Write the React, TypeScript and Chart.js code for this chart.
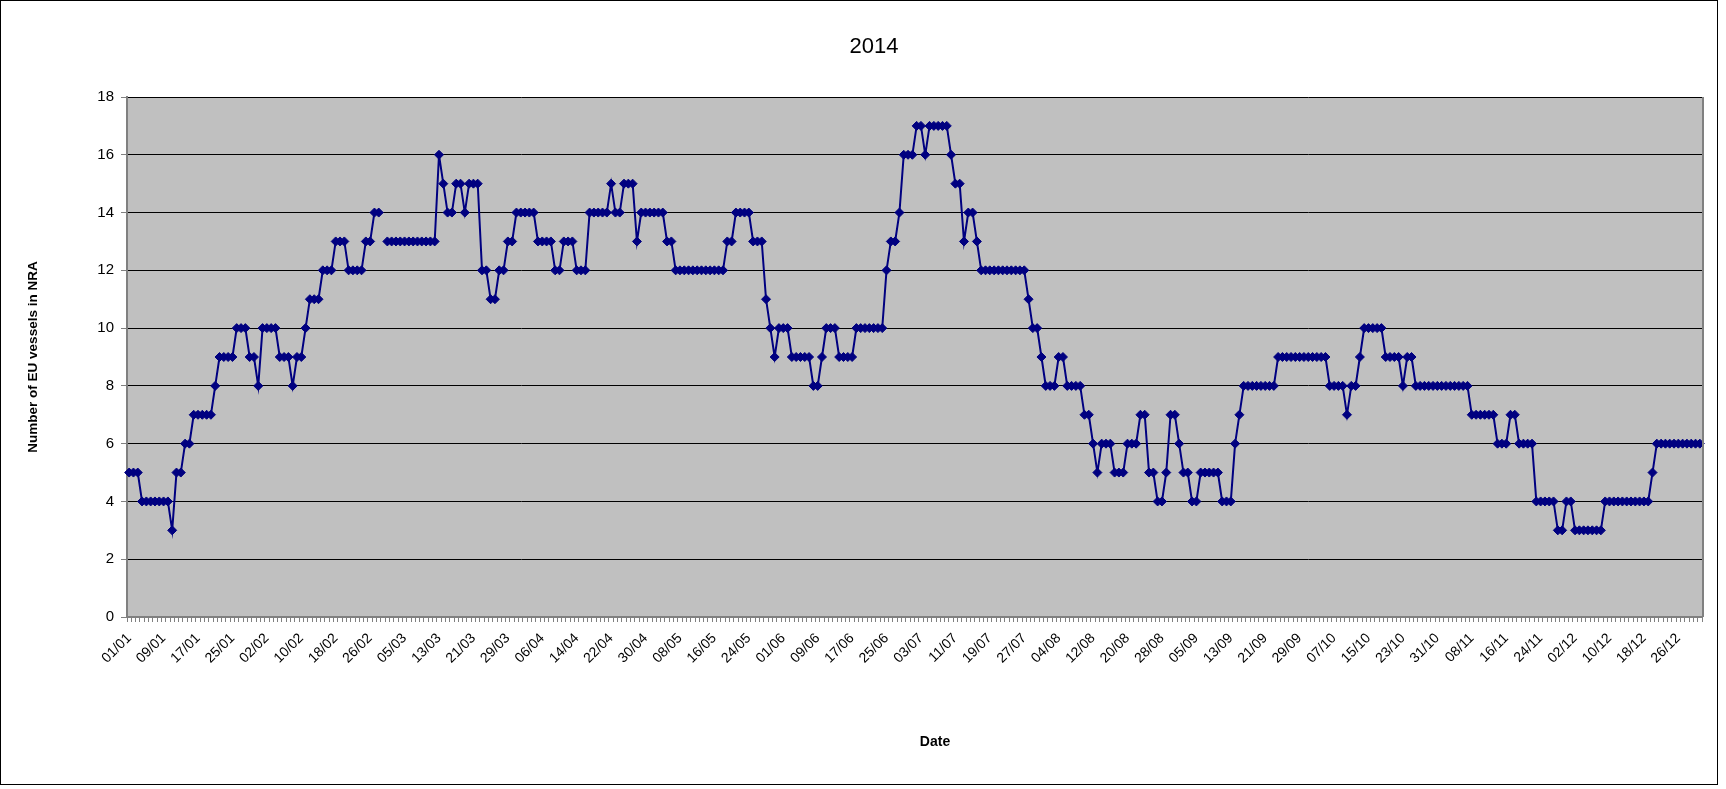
import React, { useEffect, useRef } from 'react';
import { Chart, registerables } from 'chart.js';

Chart.register(...registerables);

// ---- categories (daily dates of 2014, as the sheet lists them) ----
const monthNumbers = ['01', '02', '03', '04', '05', '06', '07', '08', '09', '10', '11', '12'];
const monthLengths = [31, 28, 31, 30, 31, 30, 31, 31, 30, 31, 30, 31];
// the sheet holds one extra, empty row after 28/02
const extraRowAfter = '28/02';

function buildCategories(): string[] {
  const out: string[] = [];
  monthNumbers.forEach((m, mi) => {
    for (let d = 1; d <= monthLengths[mi]; d++) {
      const lab = String(d).padStart(2, '0') + '/' + m;
      out.push(lab);
      if (lab === extraRowAfter) out.push('');
    }
  });
  return out;
}
const categories = buildCategories();

// ---- series values: number of EU vessels in NRA, per day ----
const jan = [5, 5, 5, 4, 4, 4, 4, 4, 4, 4, 3, 5, 5, 6, 6, 7, 7, 7, 7, 7, 8, 9, 9, 9, 9, 10, 10, 10, 9, 9, 8];
const feb = [10, 10, 10, 10, 9, 9, 9, 8, 9, 9, 10, 11, 11, 11, 12, 12, 12, 13, 13, 13, 12, 12, 12, 12, 13, 13, 14, 14];
const extraRow = [null];
const mar = [13, 13, 13, 13, 13, 13, 13, 13, 13, 13, 13, 13, 16, 15, 14, 14, 15, 15, 14, 15, 15, 15, 12, 12, 11, 11, 12, 12, 13, 13, 14];
const apr = [14, 14, 14, 14, 13, 13, 13, 13, 12, 12, 13, 13, 13, 12, 12, 12, 14, 14, 14, 14, 14, 15, 14, 14, 15, 15, 15, 13, 14, 14];
const may = [14, 14, 14, 14, 13, 13, 12, 12, 12, 12, 12, 12, 12, 12, 12, 12, 12, 12, 13, 13, 14, 14, 14, 14, 13, 13, 13, 11, 10, 9, 10];
const jun = [10, 10, 9, 9, 9, 9, 9, 8, 8, 9, 10, 10, 10, 9, 9, 9, 9, 10, 10, 10, 10, 10, 10, 10, 12, 13, 13, 14, 16, 16];
const jul = [16, 17, 17, 16, 17, 17, 17, 17, 17, 16, 15, 15, 13, 14, 14, 13, 12, 12, 12, 12, 12, 12, 12, 12, 12, 12, 12, 11, 10, 10, 9];
const aug = [8, 8, 8, 9, 9, 8, 8, 8, 8, 7, 7, 6, 5, 6, 6, 6, 5, 5, 5, 6, 6, 6, 7, 7, 5, 5, 4, 4, 5, 7, 7];
const sep = [6, 5, 5, 4, 4, 5, 5, 5, 5, 5, 4, 4, 4, 6, 7, 8, 8, 8, 8, 8, 8, 8, 8, 9, 9, 9, 9, 9, 9, 9];
const oct = [9, 9, 9, 9, 9, 8, 8, 8, 8, 7, 8, 8, 9, 10, 10, 10, 10, 10, 9, 9, 9, 9, 8, 9, 9, 8, 8, 8, 8, 8, 8];
const nov = [8, 8, 8, 8, 8, 8, 8, 7, 7, 7, 7, 7, 7, 6, 6, 6, 7, 7, 6, 6, 6, 6, 4, 4, 4, 4, 4, 3, 3, 4];
const dec = [4, 3, 3, 3, 3, 3, 3, 3, 4, 4, 4, 4, 4, 4, 4, 4, 4, 4, 4, 5, 6, 6, 6, 6, 6, 6, 6, 6, 6, 6, 6];

const vessels: (number | null)[] = [
  ...jan, ...feb, ...extraRow, ...mar, ...apr, ...may, ...jun,
  ...jul, ...aug, ...sep, ...oct, ...nov, ...dec,
];

const yTicks = [0, 2, 4, 6, 8, 10, 12, 14, 16, 18];
const labelEvery = 8;

const chartTitle = '2014';
const xTitle = 'Date';
const yTitle = 'Number of EU vessels in NRA';

const FONT = "'Liberation Sans', Arial, sans-serif";

const frame = {
  id: 'frame',
  beforeDraw(chart: any) {
    const { ctx, chartArea: a } = chart;
    ctx.save();
    ctx.fillStyle = '#C0C0C0';
    ctx.fillRect(a.left, a.top, a.right - a.left, a.bottom - a.top);
    ctx.restore();
  },
  afterDatasetsDraw(chart: any) {
    const { ctx, chartArea: a } = chart;
    ctx.save();
    ctx.strokeStyle = '#808080';
    ctx.lineWidth = 2;
    ctx.beginPath();
    ctx.moveTo(a.right + 1, a.top);
    ctx.lineTo(a.right + 1, a.bottom);
    ctx.stroke();
    ctx.restore();
  },
  afterDraw(chart: any) {
    const { ctx } = chart;
    ctx.save();
    ctx.strokeStyle = '#000';
    ctx.lineWidth = 1;
    ctx.strokeRect(0.5, 0.5, 1717, 784);
    ctx.fillStyle = '#000';
    ctx.textAlign = 'center';
    ctx.textBaseline = 'middle';
    ctx.font = `normal 22px ${FONT}`;
    ctx.fillText(chartTitle, 874, 47);
    ctx.font = `bold 14px ${FONT}`;
    ctx.fillText(xTitle, 935, 742);
    ctx.restore();
  },
};

export default function App() {
  const ref = useRef<HTMLCanvasElement>(null);

  useEffect(() => {
    if (!ref.current) return;
    const chart = new Chart(ref.current, {
      type: 'line',
      data: {
        labels: categories,
        datasets: [
          {
            label: 'EU vessels in NRA',
            data: vessels,
            borderColor: '#000080',
            backgroundColor: '#000080',
            borderWidth: 2,
            pointStyle: 'rectRot',
            pointRadius: 4.5,
            pointBorderWidth: 1,
            pointBackgroundColor: '#000080',
            pointBorderColor: '#000080',
            spanGaps: false,
            tension: 0,
          },
        ],
      },
      options: {
        responsive: false,
        animation: false,
        events: [],
        layout: { padding: { left: 0, right: 24, top: 97, bottom: 0 } },
        plugins: {
          legend: { display: false },
          tooltip: { enabled: false },
          title: { display: false },
        },
        scales: {
          x: {
            type: 'category',
            offset: true,
            afterFit: (s: any) => { s.height = 172; },
            grid: {
              display: true,
              drawOnChartArea: false,
              drawTicks: true,
              tickLength: 5,
              offset: true,
              color: '#808080',
            },
            border: { display: true, color: '#808080', width: 2 },
            ticks: {
              autoSkip: false,
              minRotation: 45,
              maxRotation: 45,
              padding: 8,
              color: '#000',
              font: { family: FONT, size: 14 },
              callback: (_v: any, i: number) => (i % labelEvery === 0 ? categories[i] : ''),
            },
          },
          y: {
            min: yTicks[0],
            max: yTicks[yTicks.length - 1],
            afterFit: (s: any) => { s.width = 127; },
            afterBuildTicks: (s: any) => { s.ticks = yTicks.map((v) => ({ value: v })); },
            grid: {
              color: (c: any) => (c.tick && c.tick.value === 0 ? 'rgba(0,0,0,0)' : '#000'),
              tickColor: '#808080',
              tickLength: 6,
              lineWidth: 1,
            },
            border: { display: true, color: '#808080', width: 2 },
            ticks: {
              padding: 7,
              color: '#000',
              font: { family: FONT, size: 15 },
            },
            title: {
              display: true,
              text: yTitle,
              color: '#000',
              font: { family: FONT, size: 13.5, weight: 'bold' },
              padding: { top: 25, bottom: 0 },
            },
          },
        },
      },
      plugins: [frame],
    } as any);
    return () => chart.destroy();
  }, []);

  return (
    <div style={{ position: 'absolute', left: 0, top: 0, width: 1726, height: 789 }}>
      <canvas ref={ref} width={1726} height={789} style={{ display: 'block' }} />
    </div>
  );
}
